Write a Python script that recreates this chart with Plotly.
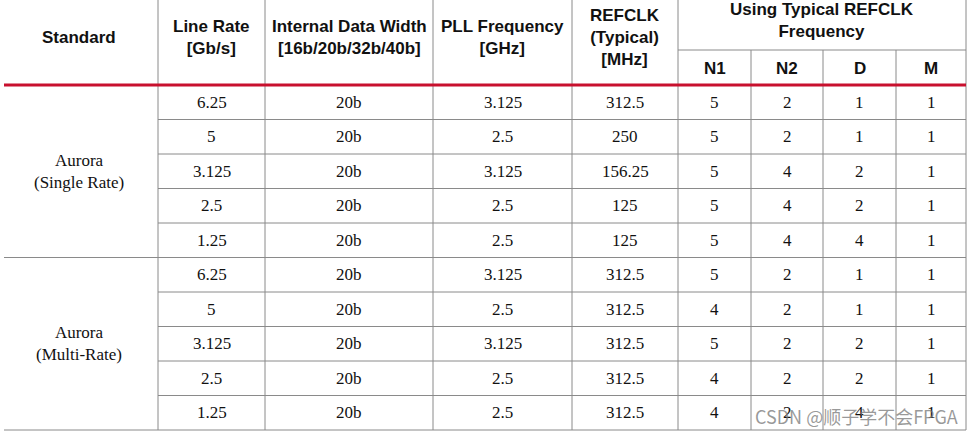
import plotly.graph_objects as go

# Data
standards = ["Aurora<br>(Single Rate)", "Aurora<br>(Multi-Rate)"]
line_rate = ["6.25", "5", "3.125", "2.5", "1.25", "6.25", "5", "3.125", "2.5", "1.25"]
data_width = ["20b"] * 10
pll_freq = ["3.125", "2.5", "3.125", "2.5", "2.5", "3.125", "2.5", "3.125", "2.5", "2.5"]
refclk = ["312.5", "250", "156.25", "125", "125", "312.5", "312.5", "312.5", "312.5", "312.5"]
n1 = [5, 5, 5, 5, 5, 5, 4, 5, 4, 4]
n2 = [2, 2, 4, 4, 4, 2, 2, 2, 2, 2]
d = [1, 1, 2, 2, 4, 1, 1, 2, 2, 4]
m = [1, 1, 1, 1, 1, 1, 1, 1, 1, 1]
headers = ["Standard", "Line Rate<br>[Gb/s]", "Internal Data Width<br>[16b/20b/32b/40b]",
           "PLL Frequency<br>[GHz]", "REFCLK<br>(Typical)<br>[MHz]"]
sub_headers = ["N1", "N2", "D", "M"]
group_header = "Using Typical REFCLK<br>Frequency"

# Layout geometry (pixels)
W, H = 973, 437
cols = [0, 158, 265, 433, 572, 678, 751, 823, 896, 966]
top, sub_y, head_bot = 0, 50, 85
row_h = 34.5
grid = "#8a8a8a"

fig = go.Figure()
shapes = []
ann = []

def line(x0, y0, x1, y1, color=grid, width=1):
    shapes.append(dict(type="line", x0=x0, y0=y0, x1=x1, y1=y1,
                       line=dict(color=color, width=width), layer="above"))

def text(x, y, s, bold=False, size=17, color="#111"):
    ann.append(dict(x=x, y=y, text=s, showarrow=False, xanchor="center", yanchor="middle",
                    font=dict(family="Liberation Sans" if bold else "Liberation Serif",
                              size=size, color=color)))

nrows = len(line_rate)
bottom = head_bot + row_h * nrows

# vertical lines
for i, x in enumerate(cols[1:], start=1):
    y0 = sub_y if i in (6, 7, 8) else top
    line(x, y0, x, bottom)
line(cols[5], sub_y, cols[9], sub_y)

# horizontal lines
for r in range(1, nrows + 1):
    y = head_bot + row_h * r
    x0 = 4 if r in (5, 10) else cols[1]
    line(x0, y, cols[9], y)
line(4, head_bot, cols[9], head_bot, color="#c8102e", width=3)

# header text
for i, h in enumerate(headers):
    text((cols[i] + cols[i + 1]) / 2, 37, "<b>%s</b>" % h, bold=True, size=17)
text((cols[5] + cols[9]) / 2, 20, "<b>%s</b>" % group_header, bold=True, size=17)
for j, s in enumerate(sub_headers):
    text((cols[5 + j] + cols[6 + j]) / 2, 68, "<b>%s</b>" % s, bold=True, size=17)

# body
for g, s in enumerate(standards):
    text(cols[1] / 2, head_bot + row_h * (5 * g + 2.5), s)
for r in range(nrows):
    y = head_bot + row_h * (r + 0.5)
    vals = [line_rate[r], data_width[r], pll_freq[r], refclk[r], n1[r], n2[r], d[r], m[r]]
    for c, v in enumerate(vals, start=1):
        text((cols[c] + cols[c + 1]) / 2, y, str(v))

ann.append(dict(x=960, y=416, text="CSDN @顺子学不会FPGA", showarrow=False,
                xanchor="right", yanchor="middle",
                font=dict(family="Noto Sans CJK SC", size=18, color="rgba(120,120,120,0.75)")))

fig.update_layout(
    width=W, height=H, margin=dict(l=0, r=0, t=0, b=0),
    paper_bgcolor="white", plot_bgcolor="white",
    xaxis=dict(range=[0, W], visible=False, fixedrange=True),
    yaxis=dict(range=[H, 0], visible=False, fixedrange=True),
    shapes=shapes, annotations=ann, showlegend=False,
)
fig.write_html("out.html", config={"displayModeBar": False},
               post_script="document.body.style.margin='0';document.body.style.overflow='hidden';")
